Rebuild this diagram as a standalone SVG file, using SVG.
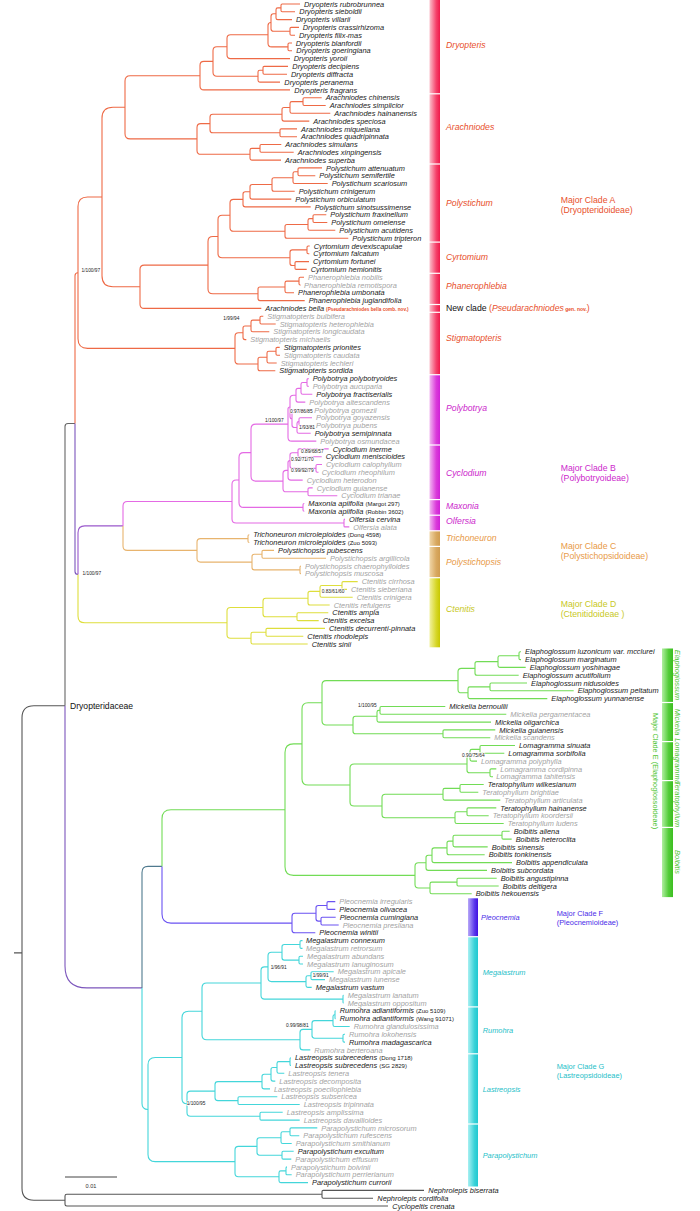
<svg xmlns="http://www.w3.org/2000/svg" width="700" height="1211" viewBox="0 0 700 1211">
<defs>
<style>
.e{fill:none;stroke-width:1.1;stroke-linecap:butt;stroke-linejoin:round}
.a{stroke:#EE6A46}.b{stroke:#E46AE4}.c{stroke:#E8B46E}.d{stroke:#DEDE3C}.ee{stroke:#72DC56}.f{stroke:#6A52F2}.g2{stroke:#44D6DA}
.k{stroke:#666}.ko{stroke:#555}.p{stroke:#7C56BC}.pv{stroke:#9A58CC}.sl{stroke:#4F7A8E}
text{font-family:"Liberation Sans",Arial,sans-serif}
.t{font-size:7.4px;font-style:italic;fill:#222}
.g{fill:#A3A3A3}
.v{font-style:normal;font-size:6px}
.nb{font-style:normal;font-size:4.7px;font-weight:bold;fill:#E8502C}
.s{font-size:4.8px;fill:#222;paint-order:stroke;stroke:#fff;stroke-width:1.4px}
.L{font-size:8.7px;font-style:italic}
.M{font-size:8.7px}
.L2{font-size:7.4px;font-style:italic}
.M2{font-size:7.4px}
.cA{fill:#E8502C}.cB{fill:#CC28CC}.cC{fill:#E89A48}.cD{fill:#C8C81E}.cE{fill:#4EC430}.cF{fill:#4A2CE8}.cG{fill:#1EC0C8}
</style>
<linearGradient id="gA"><stop offset="0" stop-color="#FBC0CC"/><stop offset="0.65" stop-color="#F5406A"/><stop offset="1" stop-color="#F0184A"/></linearGradient>
<linearGradient id="gB"><stop offset="0" stop-color="#F2B8F2"/><stop offset="0.65" stop-color="#DA3ADA"/><stop offset="1" stop-color="#D020D8"/></linearGradient>
<linearGradient id="gC"><stop offset="0" stop-color="#F0D6A8"/><stop offset="0.65" stop-color="#D8A860"/><stop offset="1" stop-color="#D09C50"/></linearGradient>
<linearGradient id="gD"><stop offset="0" stop-color="#F2F2A0"/><stop offset="0.65" stop-color="#D6D628"/><stop offset="1" stop-color="#C8C800"/></linearGradient>
<linearGradient id="gE"><stop offset="0" stop-color="#B0EEA0"/><stop offset="0.6" stop-color="#52CC38"/><stop offset="1" stop-color="#3CBE20"/></linearGradient>
<linearGradient id="gF"><stop offset="0" stop-color="#B8A8F8"/><stop offset="0.65" stop-color="#5A38EC"/><stop offset="1" stop-color="#4010E0"/></linearGradient>
<linearGradient id="gG"><stop offset="0" stop-color="#A8F0F2"/><stop offset="0.65" stop-color="#3AD2D8"/><stop offset="1" stop-color="#20C8D0"/></linearGradient>
</defs>
<rect width="700" height="1211" fill="#fff"/>

<g id="connectors">
<g id="backbone">
<path class="e ko" d="M14 952.9H22M22 952.9V717.7Q22 705.7 34 705.7H65"/>
<path class="e ko" d="M22 952.9V1188.2Q22 1200.2 34 1200.2H65"/>
<path class="e ko" d="M322 1194.3H66.8Q65 1194.3 65 1196.1V1204.3Q65 1206 66.8 1206H388"/>
<path class="e ko" d="M424 1190.4H323.2Q322 1190.4 322 1191.6V1197Q322 1198.2 323.2 1198.2H373"/>
<path class="e k" d="M65 705.7V426.5Q65 423.5 68 423.5H75"/>
<path class="e p" d="M65 705.7V965.9Q65 987.9 87 987.9H142"/>
<path class="e a" d="M75 423.5V275.7Q75 272.7 78 272.7"/>
<path class="e p" d="M75 423.5V571.4Q75 574.4 78 574.4"/>
<path class="e pv" d="M78 574.4V532.7Q78 525.9 84.8 525.9H123"/>
<path class="e d" d="M78 574.4V616Q78 622.8 84.8 622.8H227"/>
<path class="e b" d="M123 525.9V505.9Q123 501.5 127.4 501.5H232"/>
<path class="e c" d="M123 525.9V546Q123 550.4 127.4 550.4H197"/>
<path class="e sl" d="M142 987.9V872.4Q142 866.4 148 866.4H162"/>
<path class="e g2" d="M142 987.9V1103.5Q142 1109.5 148 1109.5"/>
<path class="e ee" d="M162 866.4V818.7Q162 809.7 171 809.7H285"/>
<path class="e f" d="M162 866.4V914.1Q162 923.1 171 923.1H292"/>
</g>
<g id="cladeA">
<path class="e a" d="M300 4H282.2Q281 4 281 5.2V10.6Q281 11.8 282.2 11.8H295"/>
<path class="e a" d="M281 7.9H277.8Q276 7.9 276 9.7V17.9Q276 19.6 277.8 19.6H292"/>
<path class="e a" d="M299 27.4H291.2Q290 27.4 290 28.6V34Q290 35.2 291.2 35.2H295"/>
<path class="e a" d="M276 13.8H273.6Q271 13.8 271 16.4V28.7Q271 31.3 273.6 31.3H290"/>
<path class="e a" d="M292 43H289.2Q288 43 288 44.2V49.6Q288 50.8 289.2 50.8H292"/>
<path class="e a" d="M271 22.5Q268 22.5 268 25.5V43.2Q268 46.9 271.7 46.9H288"/>
<path class="e a" d="M268 34.7H230.6Q227 34.7 227 38.3V55Q227 58.6 230.6 58.6H290"/>
<path class="e a" d="M288 66.4H264.2Q263 66.4 263 67.6V73Q263 74.2 264.2 74.2H287"/>
<path class="e a" d="M263 70.3H259.8Q258 70.3 258 72.1V80.3Q258 82.1 259.8 82.1H280"/>
<path class="e a" d="M227 46.7H216.9Q213 46.7 213 50.6V72.3Q213 76.2 216.9 76.2H258"/>
<path class="e a" d="M213 61.4H203.9Q200 61.4 200 65.3V86Q200 89.9 203.9 89.9H290"/>
<path class="e a" d="M321.7 97.7H304.2Q303 97.7 303 98.9V104.3Q303 105.5 304.2 105.5H325.7"/>
<path class="e a" d="M303 101.6H291.8Q290 101.6 290 103.4V111.5Q290 113.3 291.8 113.3H330.3"/>
<path class="e a" d="M290 107.5H284Q282 107.5 282 109.5V119.1Q282 121.1 284 121.1H309.3"/>
<path class="e a" d="M297 128.9H281.2Q280 128.9 280 130.1V135.5Q280 136.7 281.2 136.7H297"/>
<path class="e a" d="M282 114.3H212.8Q210 114.3 210 117.1V130Q210 132.8 212.8 132.8H280"/>
<path class="e a" d="M281.3 144.5H261.2Q260 144.5 260 145.7V151.1Q260 152.3 261.2 152.3H293.7"/>
<path class="e a" d="M260 148.4H251.8Q250 148.4 250 150.2V158.3Q250 160.1 251.8 160.1H281"/>
<path class="e a" d="M210 123.6H200.9Q197 123.6 197 127.5V150.4Q197 154.3 200.9 154.3H250"/>
<path class="e a" d="M200 75.7H130.2Q125 75.7 125 80.9V133.7Q125 138.9 130.2 138.9H197"/>
<path class="e a" d="M322 167.9H299.2Q298 167.9 298 169.1V174.5Q298 175.7 299.2 175.7H315.3"/>
<path class="e a" d="M298 171.8H294.8Q293 171.8 293 173.6V181.7Q293 183.5 294.8 183.5H327.7"/>
<path class="e a" d="M293 177.7H274Q272 177.7 272 179.7V189.3Q272 191.3 274 191.3H294.7"/>
<path class="e a" d="M272 184.5H252.2Q250 184.5 250 186.7V196.9Q250 199.1 252.2 199.1H291.3"/>
<path class="e a" d="M250 191.8H245.3Q243 191.8 243 194.1V204.6Q243 206.9 245.3 206.9H310.7"/>
<path class="e a" d="M326.3 214.7H314.2Q313 214.7 313 215.9V221.3Q313 222.5 314.2 222.5H327.3"/>
<path class="e a" d="M313 218.6H309.8Q308 218.6 308 220.4V228.5Q308 230.3 309.8 230.3H335.3"/>
<path class="e a" d="M308 224.5H287Q285 224.5 285 226.5V236.2Q285 238.2 287 238.2H348.3"/>
<path class="e a" d="M243 199.4H233.6Q230 199.4 230 203V227.7Q230 231.3 233.6 231.3H285"/>
<path class="e a" d="M309.7 246H308.2Q307 246 307 247.2V252.6Q307 253.8 308.2 253.8H309.3"/>
<path class="e a" d="M309 261.6H296.2Q295 261.6 295 262.8V268.2Q295 269.4 296.2 269.4H306.7"/>
<path class="e a" d="M307 249.9H292.3Q290 249.9 290 252.2V263.2Q290 265.5 292.3 265.5H295"/>
<path class="e a" d="M230 215.3H222.1Q218 215.3 218 219.4V253.6Q218 257.7 222.1 257.7H290"/>
<path class="e a" d="M304 277.2H300.2Q299 277.2 299 278.4V283.8Q299 285 300.2 285H300"/>
<path class="e a" d="M299 281.1H286.8Q285 281.1 285 282.9V291Q285 292.8 286.8 292.8H294"/>
<path class="e a" d="M285 287H260Q258 287 258 289V298.6Q258 300.6 260 300.6H304.7"/>
<path class="e a" d="M218 236.5H212.9Q208 236.5 208 241.4V288.9Q208 293.8 212.9 293.8H258"/>
<path class="e a" d="M208 265.1H144.2Q140 265.1 140 269.3V304.2Q140 308.4 144.2 308.4H261.3"/>
<path class="e a" d="M125 107.3H113Q102 107.3 102 118.3V275.8Q102 286.8 113 286.8H140"/>
<path class="e a" d="M263.3 316.2H261.2Q260 316.2 260 317.4V322.8Q260 324 261.2 324H275.7"/>
<path class="e a" d="M260 320.1H252.8Q251 320.1 251 321.9V330Q251 331.8 252.8 331.8H269.3"/>
<path class="e a" d="M251 326H245Q243 326 243 328V337.6Q243 339.6 245 339.6H246.3"/>
<path class="e a" d="M279.7 347.4H277.2Q276 347.4 276 348.6V354Q276 355.2 277.2 355.2H280"/>
<path class="e a" d="M276 351.3H268.8Q267 351.3 267 353.1V361.2Q267 363 268.8 363H276.7"/>
<path class="e a" d="M267 357.2H260Q258 357.2 258 359.2V368.8Q258 370.8 260 370.8H275.3"/>
<path class="e a" d="M243 332.8H238.6Q235 332.8 235 336.4V360.4Q235 364 238.6 364H258"/>
<path class="e a" d="M102 197H87.6Q78 197 78 206.6V338.8Q78 348.4 87.6 348.4H235"/>
</g>
<g id="cladeB">
<path class="e b" d="M239 480H236.2Q232 480 232 484.2V518.9Q232 523 236.2 523H344"/>
<path class="e b" d="M251 452.6H243.7Q239 452.6 239 457.3V502.7Q239 507.4 243.7 507.4H303"/>
<path class="e b" d="M288 424.1H255.9Q251 424.1 251 429V476.2Q251 481.1 255.9 481.1H283"/>
<path class="e b" d="M308.7 378.6H308.2Q307 378.6 307 379.8V385.2Q307 386.4 308.2 386.4H308.7"/>
<path class="e b" d="M307 382.5H302.8Q301 382.5 301 384.3V392.5Q301 394.3 302.8 394.3H312.3"/>
<path class="e b" d="M301 388.4H298Q296 388.4 296 390.4V400.1Q296 402.1 298 402.1H305.3"/>
<path class="e b" d="M312 417.7H300.2Q299 417.7 299 418.9V424.3Q299 425.5 300.2 425.5H312"/>
<path class="e b" d="M299 421.6H298.8Q297 421.6 297 423.4V431.5Q297 433.3 298.8 433.3H310.7"/>
<path class="e b" d="M310.3 409.9H294.6Q292 409.9 292 412.5V424.9Q292 427.5 294.6 427.5H297"/>
<path class="e b" d="M296 395.3H293.5Q290 395.3 290 398.8V416.7Q290 418.7 292 418.7"/>
<path class="e b" d="M290 407Q288 407 288 409V437.4Q288 441.1 291.7 441.1H316.3"/>
<path class="e b" d="M328.7 448.9H299.2Q298 448.9 298 450.1V455.5Q298 456.7 299.2 456.7H321.7"/>
<path class="e b" d="M322 464.5H317.2Q316 464.5 316 465.7V471.1Q316 472.3 317.2 472.3H318.5"/>
<path class="e b" d="M298 452.8H292.3Q290 452.8 290 455.1V466.1Q290 468.4 292.3 468.4H316"/>
<path class="e b" d="M290 460.6Q288 460.6 288 462.6V477.2Q288 480.1 290.9 480.1H302.7"/>
<path class="e b" d="M312.7 487.9H309.2Q308 487.9 308 489.1V494.5Q308 495.7 309.2 495.7H337.3"/>
<path class="e b" d="M288 470.4H286.1Q283 470.4 283 473.5V488.7Q283 491.8 286.1 491.8H308"/>
<path class="e b" d="M304.3 503.5H304.2Q303 503.5 303 504.7V510.1Q303 511.3 304.2 511.3H304.3"/>
<path class="e b" d="M345 519.1Q344 519.1 344 520.1V525.9Q344 526.9 345 526.9H349.3"/>
</g>
<g id="cladeC">
<path class="e c" d="M248 538.6H200.5Q197 538.6 197 542.1V558.6Q197 562.1 200.5 562.1H252"/>
<path class="e c" d="M249.3 534.7H249.2Q248 534.7 248 535.9V541.3Q248 542.5 249.2 542.5H249.3"/>
<path class="e c" d="M274 550.4H263.2Q262 550.4 262 551.6V557Q262 558.2 263.2 558.2H326"/>
<path class="e c" d="M301 566Q300 566 300 567V572.8Q300 573.8 301 573.8"/>
<path class="e c" d="M262 554.3H254.3Q252 554.3 252 556.6V567.6Q252 569.9 254.3 569.9H300"/>
</g>
<g id="cladeD">
<path class="e d" d="M357.7 581.6H343.2Q342 581.6 342 582.8V588.2Q342 589.4 343.2 589.4H347"/>
<path class="e d" d="M342 585.5H321.8Q320 585.5 320 587.3V595.4Q320 597.2 321.8 597.2H352.7"/>
<path class="e d" d="M320 591.4H310Q308 591.4 308 593.4V603Q308 605 310 605H329.7"/>
<path class="e d" d="M328.3 612.8H298.2Q297 612.8 297 614V619.4Q297 620.6 298.2 620.6H318.7"/>
<path class="e d" d="M308 598.2H265.8Q263 598.2 263 601V613.9Q263 616.7 265.8 616.7H297"/>
<path class="e d" d="M325 628.4H267.2Q266 628.4 266 629.6V635Q266 636.2 267.2 636.2H303.3"/>
<path class="e d" d="M266 632.3H252.8Q251 632.3 251 634.1V642.2Q251 644 252.8 644H307.7"/>
<path class="e d" d="M263 607.5H230.5Q227 607.5 227 611V634.7Q227 638.2 230.5 638.2H251"/>
</g>
<g id="cladeE">
<path class="e ee" d="M302 743.9H293.6Q285 743.9 285 752.5V866.8Q285 875.4 293.6 875.4H415"/>
<path class="e ee" d="M322 702.8H308.1Q302 702.8 302 708.9V778.9Q302 785 308.1 785H350"/>
<path class="e ee" d="M458 680.6H326.2Q322 680.6 322 684.8V720.8Q322 725 326.2 725H353"/>
<path class="e ee" d="M521 651.8H520.2Q519 651.8 519 653V658.4Q519 659.6 520.2 659.6H521"/>
<path class="e ee" d="M519 655.7H499.8Q498 655.7 498 657.5V665.6Q498 667.4 499.8 667.4H525.7"/>
<path class="e ee" d="M498 661.6H477Q475 661.6 475 663.6V673.2Q475 675.2 477 675.2H518.7"/>
<path class="e ee" d="M527 683H491.2Q490 683 490 684.2V689.6Q490 690.8 491.2 690.8H573.7"/>
<path class="e ee" d="M490 686.9H469.8Q468 686.9 468 688.7V696.8Q468 698.6 469.8 698.6H547.3"/>
<path class="e ee" d="M475 668.4H461.4Q458 668.4 458 671.8V689.4Q458 692.8 461.4 692.8H468"/>
<path class="e ee" d="M445.3 706.5H381.2Q380 706.5 380 707.7V713.1Q380 714.3 381.2 714.3H506.3"/>
<path class="e ee" d="M380 710.4H378.8Q377 710.4 377 712.2V720.3Q377 722.1 378.8 722.1H491"/>
<path class="e ee" d="M495.3 729.9H444.2Q443 729.9 443 731.1V736.5Q443 737.7 444.2 737.7H490.3"/>
<path class="e ee" d="M377 716.3H355.6Q353 716.3 353 718.9V731.2Q353 733.8 355.6 733.8H443"/>
<path class="e ee" d="M515 745.5H481.2Q480 745.5 480 746.7V752.1Q480 753.3 481.2 753.3H504.3"/>
<path class="e ee" d="M480 749.4H471.8Q470 749.4 470 751.2V759.3Q470 761.1 471.8 761.1H477"/>
<path class="e ee" d="M496.3 768.9H491.2Q490 768.9 490 770.1V775.5Q490 776.7 491.2 776.7H493"/>
<path class="e ee" d="M470 755.3H469.6Q467 755.3 467 757.9V770.2Q467 772.8 469.6 772.8H490"/>
<path class="e ee" d="M483.7 784.5H461.2Q460 784.5 460 785.7V791.1Q460 792.3 461.2 792.3H478.3"/>
<path class="e ee" d="M460 788.4H444.8Q443 788.4 443 790.2V798.3Q443 800.1 444.8 800.1H500.3"/>
<path class="e ee" d="M496.3 807.9H468.2Q467 807.9 467 809.1V814.5Q467 815.7 468.2 815.7H488.7"/>
<path class="e ee" d="M467 811.8H456.8Q455 811.8 455 813.6V821.7Q455 823.5 456.8 823.5H503.7"/>
<path class="e ee" d="M443 794.3H385.3Q382 794.3 382 797.6V814.4Q382 817.7 385.3 817.7H455"/>
<path class="e ee" d="M467 764H354.1Q350 764 350 768.1V801.9Q350 806 354.1 806H382"/>
<path class="e ee" d="M509.7 831.3H503.2Q502 831.3 502 832.5V837.9Q502 839.1 503.2 839.1H511.7"/>
<path class="e ee" d="M502 835.2H454.8Q453 835.2 453 837V845.1Q453 846.9 454.8 846.9H487.7"/>
<path class="e ee" d="M453 841.1H449Q447 841.1 447 843.1V852.7Q447 854.7 449 854.7H484.7"/>
<path class="e ee" d="M447 847.9H434.2Q432 847.9 432 850.1V860.4Q432 862.6 434.2 862.6H512"/>
<path class="e ee" d="M432 855.3H428.3Q426 855.3 426 857.6V868.1Q426 870.4 428.3 870.4H487"/>
<path class="e ee" d="M496.7 878.2H458.2Q457 878.2 457 879.4V884.8Q457 886 458.2 886H498.7"/>
<path class="e ee" d="M457 882.1H431.8Q430 882.1 430 883.9V892Q430 893.8 431.8 893.8H471.7"/>
<path class="e ee" d="M426 862.8H418.5Q415 862.8 415 866.3V884.5Q415 888 418.5 888H430"/>
</g>
<g id="cladeF">
<path class="e f" d="M335.3 901.6H328.2Q327 901.6 327 902.8V908.2Q327 909.4 328.2 909.4H335.3"/>
<path class="e f" d="M335.7 917.2H322.2Q321 917.2 321 918.4V923.8Q321 925 322.2 925H338.7"/>
<path class="e f" d="M327 905.5H318.3Q316 905.5 316 907.8V918.8Q316 921.1 318.3 921.1H321"/>
<path class="e f" d="M316 913.3H294.9Q292 913.3 292 916.2V929.9Q292 932.8 294.9 932.8H315.3"/>
</g>
<g id="cladeG">
<path class="e g2" d="M182 1057.5H155.2Q148 1057.5 148 1064.7V1154.4Q148 1161.6 155.2 1161.6H235"/>
<path class="e g2" d="M202 1011.3H188.6Q182 1011.3 182 1017.9V1098.7Q182 1103.7 187 1103.7"/>
<path class="e g2" d="M261 983H206.8Q202 983 202 987.8V1034.9Q202 1039.7 206.8 1039.7H300"/>
<path class="e g2" d="M302.5 940.6H301.2Q300 940.6 300 941.8V947.2Q300 948.4 301.2 948.4H302.5"/>
<path class="e g2" d="M303 956.2H300.2Q299 956.2 299 957.4V962.8Q299 964 300.2 964H303"/>
<path class="e g2" d="M300 944.5H284.3Q282 944.5 282 946.8V957.8Q282 960.1 284.3 960.1H299"/>
<path class="e g2" d="M333.7 971.8H312.2Q311 971.8 311 973V978.4Q311 979.6 312.2 979.6H325"/>
<path class="e g2" d="M311 975.7H307.8Q306 975.7 306 977.5V985.6Q306 987.4 307.8 987.4H311.7"/>
<path class="e g2" d="M282 952.3H271.5Q268 952.3 268 955.8V978.1Q268 981.6 271.5 981.6H306"/>
<path class="e g2" d="M343.7 995.2Q343 995.2 343 995.9V1002.3Q343 1003 343.7 1003"/>
<path class="e g2" d="M268 966.9H264.6Q261 966.9 261 970.5V995.5Q261 999.1 264.6 999.1H343"/>
<path class="e g2" d="M335.7 1010.8Q335 1010.8 335 1011.5V1018Q335 1018.7 335.7 1018.7"/>
<path class="e g2" d="M335 1014.8H334.8Q333 1014.8 333 1016.6V1024.7Q333 1026.5 334.8 1026.5H349.7"/>
<path class="e g2" d="M345 1034.3H344.2Q343 1034.3 343 1035.5V1040.9Q343 1042.1 344.2 1042.1H345"/>
<path class="e g2" d="M333 1020.6H314.6Q312 1020.6 312 1023.2V1035.6Q312 1038.2 314.6 1038.2H343"/>
<path class="e g2" d="M312 1029.4H303Q300 1029.4 300 1032.4V1046.9Q300 1049.9 303 1049.9H310.3"/>
<path class="e g2" d="M291 1057.7Q290 1057.7 290 1058.7V1064.5Q290 1065.5 291 1065.5"/>
<path class="e g2" d="M290 1061.6H278.8Q277 1061.6 277 1063.4V1071.5Q277 1073.3 278.8 1073.3H284.3"/>
<path class="e g2" d="M277 1067.5H273Q271 1067.5 271 1069.5V1079.1Q271 1081.1 273 1081.1H275.3"/>
<path class="e g2" d="M271 1074.3H264.2Q262 1074.3 262 1076.5V1086.7Q262 1088.9 264.2 1088.9H270"/>
<path class="e g2" d="M277.3 1096.7H239.2Q238 1096.7 238 1097.9V1103.3Q238 1104.5 239.2 1104.5H299.7"/>
<path class="e g2" d="M262 1081.6H217.9Q215 1081.6 215 1084.5V1097.7Q215 1100.6 217.9 1100.6H238"/>
<path class="e g2" d="M282.7 1112.3H261.2Q260 1112.3 260 1113.5V1118.9Q260 1120.1 261.2 1120.1H299.7"/>
<path class="e g2" d="M215 1091.1H190.5Q187 1091.1 187 1094.6V1112.7Q187 1116.2 190.5 1116.2H260"/>
<path class="e g2" d="M317.3 1127.9H291.2Q290 1127.9 290 1129.1V1134.5Q290 1135.7 291.2 1135.7H299.3"/>
<path class="e g2" d="M290 1131.8H282.8Q281 1131.8 281 1133.6V1141.7Q281 1143.5 282.8 1143.5H291.7"/>
<path class="e g2" d="M293.7 1151.3H283.2Q282 1151.3 282 1152.5V1157.9Q282 1159.1 283.2 1159.1H291.3"/>
<path class="e g2" d="M281 1137.7H259.6Q257 1137.7 257 1140.3V1152.6Q257 1155.2 259.6 1155.2H282"/>
<path class="e g2" d="M287 1166.9Q286 1166.9 286 1167.9V1173.8Q286 1174.8 287 1174.8H291.7"/>
<path class="e g2" d="M286 1170.9H280.8Q279 1170.9 279 1172.7V1180.8Q279 1182.6 280.8 1182.6H308"/>
<path class="e g2" d="M257 1146.4H238.5Q235 1146.4 235 1149.9V1173.2Q235 1176.7 238.5 1176.7H279"/>
</g>
</g>

<g id="support">
<text class="s" x="81.5" y="271.7">1/100/97</text>
<text class="s" x="82.5" y="574.7">1/100/97</text>
<text class="s" x="223.3" y="319.7">1/99/94</text>
<text class="s" x="265" y="422.4">1/100/97</text>
<text class="s" x="290" y="413.4">0.97/86/85</text>
<text class="s" x="299" y="428.7">1/93/81</text>
<text class="s" x="301" y="453.4">0.89/68/57</text>
<text class="s" x="291" y="461">0.92/71/70</text>
<text class="s" x="291" y="472.4">0.99/92/79</text>
<text class="s" x="321.7" y="593.4">0.83/61/60</text>
<text class="s" x="358" y="707.4">1/100/95</text>
<text class="s" x="462" y="756.8" font-size="4.6">0.90/75/64</text>
<text class="s" x="270.7" y="969.4">1/96/91</text>
<text class="s" x="312.7" y="977.4">1/99/91</text>
<text class="s" x="286" y="1026.7">0.99/98/81</text>
<text class="s" x="186.7" y="1105">1/100/95</text>
</g>

<g id="tips">
<g id="t0"><text class="t" x="304" y="6.6">Dryopteris rubrobrunnea</text></g>
<g id="t1"><text class="t" x="299.3" y="14.4">Dryopteris sieboldii</text></g>
<g id="t2"><text class="t" x="296" y="22.2">Dryopteris villarii</text></g>
<g id="t3"><text class="t" x="302.7" y="30">Dryopteris crassirhizoma</text></g>
<g id="t4"><text class="t" x="299" y="37.8">Dryopteris filix-mas</text></g>
<g id="t5"><text class="t" x="295.7" y="45.6">Dryopteris blanfordii</text></g>
<g id="t6"><text class="t" x="296.3" y="53.4">Dryopteris goeringiana</text></g>
<g id="t7"><text class="t" x="293.7" y="61.2">Dryopteris yoroii</text></g>
<g id="t8"><text class="t" x="292.3" y="69">Dryopteris decipiens</text></g>
<g id="t9"><text class="t" x="291" y="76.8">Dryopteris diffracta</text></g>
<g id="t10"><text class="t" x="284.3" y="84.7">Dryopteris peranema</text></g>
<g id="t11"><text class="t" x="294.3" y="92.5">Dryopteris fragrans</text></g>
<g id="t12"><text class="t" x="325.7" y="100.3">Arachniodes chinensis</text></g>
<g id="t13"><text class="t" x="329.7" y="108.1">Arachniodes simplicior</text></g>
<g id="t14"><text class="t" x="334.3" y="115.9">Arachniodes hainanensis</text></g>
<g id="t15"><text class="t" x="313.3" y="123.7">Arachniodes speciosa</text></g>
<g id="t16"><text class="t" x="301" y="131.5">Arachniodes miqueliana</text></g>
<g id="t17"><text class="t" x="301" y="139.3">Arachniodes quadripinnata</text></g>
<g id="t18"><text class="t" x="285.3" y="147.1">Arachniodes simulans</text></g>
<g id="t19"><text class="t" x="297.7" y="154.9">Arachniodes xinpingensis</text></g>
<g id="t20"><text class="t" x="285" y="162.7">Arachniodes superba</text></g>
<g id="t21"><text class="t" x="326" y="170.5">Polystichum attenuatum</text></g>
<g id="t22"><text class="t" x="319.3" y="178.3">Polystichum semifertile</text></g>
<g id="t23"><text class="t" x="331.7" y="186.1">Polystichum scariosum</text></g>
<g id="t24"><text class="t" x="298.7" y="193.9">Polystichum crinigerum</text></g>
<g id="t25"><text class="t" x="295.3" y="201.7">Polystichum orbiculatum</text></g>
<g id="t26"><text class="t" x="314.7" y="209.5">Polystichum sinotsussimense</text></g>
<g id="t27"><text class="t" x="330.3" y="217.3">Polystichum fraxinellum</text></g>
<g id="t28"><text class="t" x="331.3" y="225.1">Polystichum omeiense</text></g>
<g id="t29"><text class="t" x="339.3" y="232.9">Polystichum acutidens</text></g>
<g id="t30"><text class="t" x="352.3" y="240.8">Polystichum tripteron</text></g>
<g id="t31"><text class="t" x="313.7" y="248.6">Cyrtomium devexiscapulae</text></g>
<g id="t32"><text class="t" x="313.3" y="256.4">Cyrtomium falcatum</text></g>
<g id="t33"><text class="t" x="313" y="264.2">Cyrtomium fortunei</text></g>
<g id="t34"><text class="t" x="310.7" y="272">Cyrtomium hemionitis</text></g>
<g id="t35"><text class="t g" x="308" y="279.8">Phanerophlebia nobilis</text></g>
<g id="t36"><text class="t g" x="304" y="287.6">Phanerophlebia remotispora</text></g>
<g id="t37"><text class="t" x="298" y="295.4">Phanerophlebia umbonata</text></g>
<g id="t38"><text class="t" x="308.7" y="303.2">Phanerophlebia juglandifolia</text></g>
<g id="t39"><text class="t" x="265.3" y="311">Arachniodes bella <tspan class="nb">(Pseudarachniodes bella comb. nov.)</tspan></text></g>
<g id="t40"><text class="t g" x="267.3" y="318.8">Stigmatopteris bulbifera</text></g>
<g id="t41"><text class="t g" x="279.7" y="326.6">Stigmatopteris heterophlebia</text></g>
<g id="t42"><text class="t g" x="273.3" y="334.4">Stigmatopteris longicaudata</text></g>
<g id="t43"><text class="t g" x="250.3" y="342.2">Stigmatopteris michaelis</text></g>
<g id="t44"><text class="t" x="283.7" y="350">Stigmatopteris prionites</text></g>
<g id="t45"><text class="t g" x="284" y="357.8">Stigmatopteris caudata</text></g>
<g id="t46"><text class="t g" x="280.7" y="365.6">Stigmatopteris lechleri</text></g>
<g id="t47"><text class="t" x="279.3" y="373.4">Stigmatopteris sordida</text></g>
<g id="t48"><text class="t" x="312.7" y="381.2">Polybotrya polybotryoides</text></g>
<g id="t49"><text class="t g" x="312.7" y="389">Polybotrya aucuparia</text></g>
<g id="t50"><text class="t" x="316.3" y="396.9">Polybotrya fractiserialis</text></g>
<g id="t51"><text class="t g" x="309.3" y="404.7">Polybotrya altescandens</text></g>
<g id="t52"><text class="t g" x="314.3" y="412.5">Polybotrya gomezii</text></g>
<g id="t53"><text class="t g" x="316" y="420.3">Polybotrya goyazensis</text></g>
<g id="t54"><text class="t g" x="316" y="428.1">Polybotrya pubens</text></g>
<g id="t55"><text class="t" x="314.7" y="435.9">Polybotrya semipinnata</text></g>
<g id="t56"><text class="t g" x="320.3" y="443.7">Polybotrya osmundacea</text></g>
<g id="t57"><text class="t" x="332.7" y="451.5">Cyclodium inerme</text></g>
<g id="t58"><text class="t" x="325.7" y="459.3">Cyclodium meniscioides</text></g>
<g id="t59"><text class="t g" x="326" y="467.1">Cyclodium calophyllum</text></g>
<g id="t60"><text class="t g" x="321.7" y="474.9">Cyclodium rheophilum</text></g>
<g id="t61"><text class="t g" x="306.7" y="482.7">Cyclodium heterodon</text></g>
<g id="t62"><text class="t g" x="316.7" y="490.5">Cyclodium guianense</text></g>
<g id="t63"><text class="t g" x="341.3" y="498.3">Cyclodium trianae</text></g>
<g id="t64"><text class="t" x="308.3" y="506.1">Maxonia apiifolia <tspan class="v">(Margot 297)</tspan></text></g>
<g id="t65"><text class="t" x="308.3" y="513.9">Maxonia apiifolia <tspan class="v">(Robbin 3602)</tspan></text></g>
<g id="t66"><text class="t" x="349" y="521.7">Olfersia cervina</text></g>
<g id="t67"><text class="t g" x="353.3" y="529.5">Olfersia alata</text></g>
<g id="t68"><text class="t" x="253.3" y="537.3">Trichoneuron microlepioides <tspan class="v">(Dong 4598)</tspan></text></g>
<g id="t69"><text class="t" x="253.3" y="545.1">Trichoneuron microlepioides <tspan class="v">(Zuo 5093)</tspan></text></g>
<g id="t70"><text class="t" x="278" y="553">Polystichopsis pubescens</text></g>
<g id="t71"><text class="t g" x="330" y="560.8">Polystichopsis argillicola</text></g>
<g id="t72"><text class="t g" x="305" y="568.6">Polystichopsis chaerophylloides</text></g>
<g id="t73"><text class="t g" x="305" y="576.4">Polystichopsis muscosa</text></g>
<g id="t74"><text class="t g" x="361.7" y="584.2">Ctenitis cirrhosa</text></g>
<g id="t75"><text class="t g" x="351" y="592">Ctenitis sieberiana</text></g>
<g id="t76"><text class="t g" x="356.7" y="599.8">Ctenitis crinigera</text></g>
<g id="t77"><text class="t g" x="333.7" y="607.6">Ctenitis refulgens</text></g>
<g id="t78"><text class="t" x="332.3" y="615.4">Ctenitis ampla</text></g>
<g id="t79"><text class="t" x="322.7" y="623.2">Ctenitis excelsa</text></g>
<g id="t80"><text class="t" x="329" y="631">Ctenitis decurrenti-pinnata</text></g>
<g id="t81"><text class="t" x="307.3" y="638.8">Ctenitis rhodolepis</text></g>
<g id="t82"><text class="t" x="311.7" y="646.6">Ctenitis sinii</text></g>
<g id="t83"><text class="t" x="525" y="654.4">Elaphoglossum luzonicum var. mcclurei</text></g>
<g id="t84"><text class="t" x="525" y="662.2">Elaphoglossum marginatum</text></g>
<g id="t85"><text class="t" x="529.7" y="670">Elaphoglossum yoshinagae</text></g>
<g id="t86"><text class="t" x="522.7" y="677.8">Elaphoglossum acutifolium</text></g>
<g id="t87"><text class="t" x="531" y="685.6">Elaphoglossum nidusoides</text></g>
<g id="t88"><text class="t" x="577.7" y="693.4">Elaphoglossum peltatum</text></g>
<g id="t89"><text class="t" x="551.3" y="701.2">Elaphoglossum yunnanense</text></g>
<g id="t90"><text class="t" x="449.3" y="709.1">Mickelia bernoullii</text></g>
<g id="t91"><text class="t g" x="510.3" y="716.9">Mickelia pergamentacea</text></g>
<g id="t92"><text class="t" x="495" y="724.7">Mickelia oligarchica</text></g>
<g id="t93"><text class="t" x="499.3" y="732.5">Mickelia guianensis</text></g>
<g id="t94"><text class="t g" x="494.3" y="740.3">Mickelia scandens</text></g>
<g id="t95"><text class="t" x="519" y="748.1">Lomagramma sinuata</text></g>
<g id="t96"><text class="t" x="508.3" y="755.9">Lomagramma sorbifolia</text></g>
<g id="t97"><text class="t g" x="481" y="763.7">Lomagramma polyphylla</text></g>
<g id="t98"><text class="t g" x="500.3" y="771.5">Lomagramma cordipinna</text></g>
<g id="t99"><text class="t g" x="496.3" y="779.3">Lomagramma tahitensis</text></g>
<g id="t100"><text class="t" x="487.7" y="787.1">Teratophyllum wilkesianum</text></g>
<g id="t101"><text class="t g" x="482.3" y="794.9">Teratophyllum brightiae</text></g>
<g id="t102"><text class="t g" x="504.3" y="802.7">Teratophyllum articulata</text></g>
<g id="t103"><text class="t" x="500.3" y="810.5">Teratophyllum hainanense</text></g>
<g id="t104"><text class="t g" x="492.7" y="818.3">Teratophyllum koordersii</text></g>
<g id="t105"><text class="t g" x="507.7" y="826.1">Teratophyllum ludens</text></g>
<g id="t106"><text class="t" x="513.7" y="833.9">Bolbitis aliena</text></g>
<g id="t107"><text class="t" x="515.7" y="841.7">Bolbitis heteroclita</text></g>
<g id="t108"><text class="t" x="491.7" y="849.5">Bolbitis sinensis</text></g>
<g id="t109"><text class="t" x="488.7" y="857.3">Bolbitis tonkinensis</text></g>
<g id="t110"><text class="t" x="516" y="865.2">Bolbitis appendiculata</text></g>
<g id="t111"><text class="t" x="491" y="873">Bolbitis subcordata</text></g>
<g id="t112"><text class="t" x="500.7" y="880.8">Bolbitis angustipinna</text></g>
<g id="t113"><text class="t" x="502.7" y="888.6">Bolbitis deltigera</text></g>
<g id="t114"><text class="t" x="475.7" y="896.4">Bolbitis hekouensis</text></g>
<g id="t115"><text class="t g" x="339.3" y="904.2">Pleocnemia irregularis</text></g>
<g id="t116"><text class="t" x="339.3" y="912">Pleocnemia olivacea</text></g>
<g id="t117"><text class="t" x="339.7" y="919.8">Pleocnemia cumingiana</text></g>
<g id="t118"><text class="t g" x="342.7" y="927.6">Pleocnemia presliana</text></g>
<g id="t119"><text class="t" x="319.3" y="935.4">Pleocnemia winitii</text></g>
<g id="t120"><text class="t" x="306" y="943.2">Megalastrum connexum</text></g>
<g id="t121"><text class="t g" x="306" y="951">Megalastrum retrorsum</text></g>
<g id="t122"><text class="t g" x="307" y="958.8">Megalastrum abundans</text></g>
<g id="t123"><text class="t g" x="307" y="966.6">Megalastrum lanuginosum</text></g>
<g id="t124"><text class="t g" x="337.7" y="974.4">Megalastrum apicale</text></g>
<g id="t125"><text class="t g" x="329" y="982.2">Megalastrum lunense</text></g>
<g id="t126"><text class="t" x="315.7" y="990">Megalastrum vastum</text></g>
<g id="t127"><text class="t g" x="347.7" y="997.8">Megalastrum lanatum</text></g>
<g id="t128"><text class="t g" x="347.7" y="1005.6">Megalastrum oppositum</text></g>
<g id="t129"><text class="t" x="339.7" y="1013.4">Rumohra adiantiformis <tspan class="v">(Zuo 5109)</tspan></text></g>
<g id="t130"><text class="t" x="339.7" y="1021.3">Rumohra adiantiformis <tspan class="v">(Wang 91071)</tspan></text></g>
<g id="t131"><text class="t g" x="353.7" y="1029.1">Rumohra glandulosissima</text></g>
<g id="t132"><text class="t g" x="349" y="1036.9">Rumohra lokohensis</text></g>
<g id="t133"><text class="t" x="349" y="1044.7">Rumohra madagascarica</text></g>
<g id="t134"><text class="t g" x="314.3" y="1052.5">Rumohra berteroana</text></g>
<g id="t135"><text class="t" x="295" y="1060.3">Lastreopsis subrecedens <tspan class="v">(Dong 1718)</tspan></text></g>
<g id="t136"><text class="t" x="295" y="1068.1">Lastreopsis subrecedens <tspan class="v">(SG 2829)</tspan></text></g>
<g id="t137"><text class="t g" x="288.3" y="1075.9">Lastreopsis tenera</text></g>
<g id="t138"><text class="t g" x="279.3" y="1083.7">Lastreopsis decomposita</text></g>
<g id="t139"><text class="t g" x="274" y="1091.5">Lastreopsis poecilophlebia</text></g>
<g id="t140"><text class="t g" x="281.3" y="1099.3">Lastreopsis subsericea</text></g>
<g id="t141"><text class="t g" x="303.7" y="1107.1">Lastreopsis tripinnata</text></g>
<g id="t142"><text class="t g" x="286.7" y="1114.9">Lastreopsis amplissima</text></g>
<g id="t143"><text class="t g" x="303.7" y="1122.7">Lastreopsis davallioides</text></g>
<g id="t144"><text class="t g" x="321.3" y="1130.5">Parapolystichum microsorum</text></g>
<g id="t145"><text class="t g" x="303.3" y="1138.3">Parapolystichum rufescens</text></g>
<g id="t146"><text class="t g" x="295.7" y="1146.1">Parapolystichum smithianum</text></g>
<g id="t147"><text class="t" x="297.7" y="1153.9">Parapolystichum excultum</text></g>
<g id="t148"><text class="t g" x="295.3" y="1161.7">Parapolystichum effusum</text></g>
<g id="t149"><text class="t g" x="291" y="1169.5">Parapolystichum boivinii</text></g>
<g id="t150"><text class="t g" x="295.7" y="1177.4">Parapolystichum perrierianum</text></g>
<g id="t151"><text class="t" x="312" y="1185.2">Parapolystichum currorii</text></g>
<g id="t152"><text class="t" x="428.3" y="1193">Nephrolepis biserrata</text></g>
<g id="t153"><text class="t" x="377.3" y="1200.8">Nephrolepis cordifolia</text></g>
<g id="t154"><text class="t" x="392.3" y="1208.6">Cyclopeltis crenata</text></g>
</g>

<g id="bars">
<rect x="429.5" y="0" width="10.5" height="93.2" fill="url(#gA)"/>
<rect x="429.5" y="94.4" width="10.5" height="69" fill="url(#gA)"/>
<rect x="429.5" y="164.6" width="10.5" height="76.9" fill="url(#gA)"/>
<rect x="429.5" y="242.7" width="10.5" height="30" fill="url(#gA)"/>
<rect x="429.5" y="273.9" width="10.5" height="30" fill="url(#gA)"/>
<rect x="429.5" y="305.1" width="10.5" height="6.6" fill="url(#gA)"/>
<rect x="429.5" y="312.9" width="10.5" height="61.2" fill="url(#gA)"/>
<rect x="429.5" y="375.3" width="10.5" height="69.1" fill="url(#gB)"/>
<rect x="429.5" y="445.6" width="10.5" height="53.4" fill="url(#gB)"/>
<rect x="429.5" y="500.2" width="10.5" height="14.4" fill="url(#gB)"/>
<rect x="429.5" y="515.8" width="10.5" height="14.4" fill="url(#gB)"/>
<rect x="429.5" y="531.4" width="10.5" height="14.4" fill="url(#gC)"/>
<rect x="429.5" y="547" width="10.5" height="30.1" fill="url(#gC)"/>
<rect x="429.5" y="578.3" width="10.5" height="69" fill="url(#gD)"/>
<rect x="662" y="648.5" width="11" height="53.4" fill="url(#gE)"/>
<rect x="662" y="703.1" width="11" height="37.9" fill="url(#gE)"/>
<rect x="662" y="742.2" width="11" height="37.8" fill="url(#gE)"/>
<rect x="662" y="781.2" width="11" height="45.6" fill="url(#gE)"/>
<rect x="662" y="828" width="11" height="69.1" fill="url(#gE)"/>
<rect x="468" y="898.3" width="10" height="37.8" fill="url(#gF)"/>
<rect x="468" y="937.3" width="10" height="69" fill="url(#gG)"/>
<rect x="468" y="1007.5" width="10" height="45.7" fill="url(#gG)"/>
<rect x="468" y="1054.4" width="10" height="69" fill="url(#gG)"/>
<rect x="468" y="1124.6" width="10" height="61.9" fill="url(#gG)"/>
</g>

<g id="genus-labels">
<g id="lab-dryopteris"><text class="L cA" x="446" y="48">Dryopteris</text></g>
<g id="lab-arachniodes"><text class="L cA" x="446" y="130">Arachniodes</text></g>
<g id="lab-polystichum"><text class="L cA" x="446" y="206">Polystichum</text></g>
<g id="lab-cyrtomium"><text class="L cA" x="446" y="260">Cyrtomium</text></g>
<g id="lab-phanerophlebia"><text class="L cA" x="446" y="288.5">Phanerophlebia</text></g>
<g id="lab-newclade"><text class="M cA" x="446" y="310.6"><tspan fill="#111">New clade </tspan>(<tspan font-style="italic">Pseudarachniodes</tspan><tspan font-size="5" font-weight="bold"> gen. nov.</tspan>)</text></g>
<g id="lab-stigmatopteris"><text class="L cA" x="446" y="341">Stigmatopteris</text></g>
<g id="lab-polybotrya"><text class="L cB" x="446" y="411">Polybotrya</text></g>
<g id="lab-cyclodium"><text class="L cB" x="446" y="475.5">Cyclodium</text></g>
<g id="lab-maxonia"><text class="L cB" x="446" y="509.2">Maxonia</text></g>
<g id="lab-olfersia"><text class="L cB" x="446" y="524.2">Olfersia</text></g>
<g id="lab-trichoneuron"><text class="L cC" x="446" y="540.5">Trichoneuron</text></g>
<g id="lab-polystichopsis"><text class="L cC" x="446" y="565">Polystichopsis</text></g>
<g id="lab-ctenitis"><text class="L cD" x="446" y="611.7">Ctenitis</text></g>
<g id="lab-elaphoglossum"><text class="L2 cE" transform="translate(675 675) rotate(90)" text-anchor="middle">Elaphoglossum</text></g>
<g id="lab-mickelia"><text class="L2 cE" transform="translate(675 722) rotate(90)" text-anchor="middle">Mickelia</text></g>
<g id="lab-lomagramma"><text class="L2 cE" transform="translate(675 761) rotate(90)" text-anchor="middle">Lomagramma</text></g>
<g id="lab-teratophyllum"><text class="L2 cE" transform="translate(675 804) rotate(90)" text-anchor="middle">Teratophyllum</text></g>
<g id="lab-bolbitis"><text class="L2 cE" transform="translate(675 862) rotate(90)" text-anchor="middle">Bolbitis</text></g>
<g id="lab-pleocnemia"><text class="L2 cF" x="481" y="920">Pleocnemia</text></g>
<g id="lab-megalastrum"><text class="L2 cG" x="482.7" y="974.5">Megalastrum</text></g>
<g id="lab-rumohra"><text class="L2 cG" x="482.7" y="1032.5">Rumohra</text></g>
<g id="lab-lastreopsis"><text class="L2 cG" x="482.7" y="1091.5">Lastreopsis</text></g>
<g id="lab-parapolystichum"><text class="L2 cG" x="482.7" y="1157.5">Parapolystichum</text></g>
</g>

<g id="major-clades">
<g id="clade-A"><text class="M cA" x="560.7" y="202.6">Major Clade A</text><text class="M cA" x="560.7" y="213.3">(Dryopteridoideae)</text></g>
<g id="clade-B"><text class="M cB" x="560.7" y="470.6">Major Clade B</text><text class="M cB" x="560.7" y="481.3">(Polybotryoideae)</text></g>
<g id="clade-C"><text class="M cC" x="560.7" y="548.5">Major Clade C</text><text class="M cC" x="560.7" y="559.2">(Polystichopsidoideae)</text></g>
<g id="clade-D"><text class="M cD" x="560.7" y="606.6">Major Clade D</text><text class="M cD" x="560.7" y="617.3">(Ctenitidoideae )</text></g>
<g id="clade-E"><text class="M2 cE" transform="translate(653 771) rotate(90)" text-anchor="middle">Major Clade E (Elaphoglossoideae)</text></g>
<g id="clade-F"><text class="M2 cF" x="556.7" y="915.6">Major Clade F</text><text class="M2 cF" x="556.7" y="925.2">(Pleocnemioideae)</text></g>
<g id="clade-G"><text class="M2 cG" x="556.7" y="1068.5">Major Clade G</text><text class="M2 cG" x="556.7" y="1078.1">(Lastreopsidoideae)</text></g>
</g>

<g id="family">
<text x="70" y="708.7" font-size="8.6" fill="#111">Dryopteridaceae</text>
</g>

<g id="scalebar">
<path d="M65 1177H117" stroke="#444" stroke-width="1" fill="none"/>
<text x="91" y="1188" font-size="5.6" fill="#333" text-anchor="middle">0.01</text>
</g>
</svg>
